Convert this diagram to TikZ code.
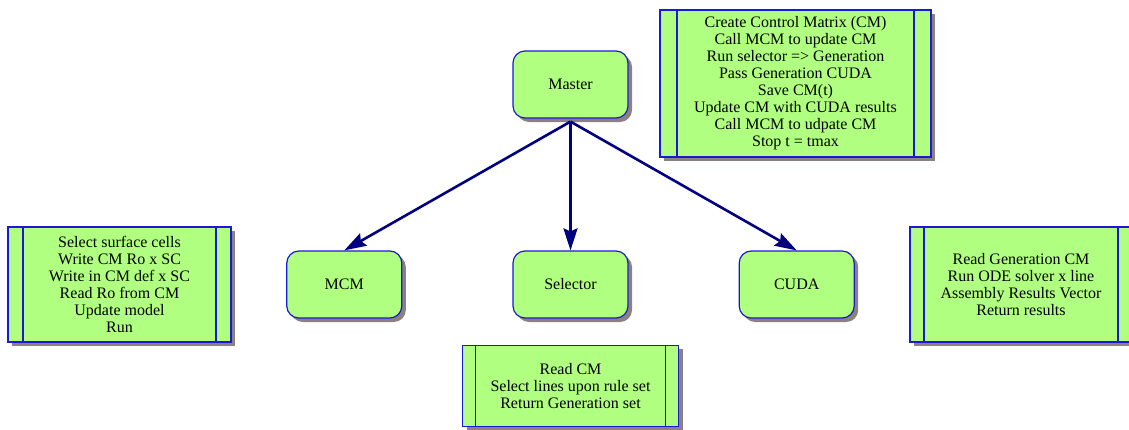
\documentclass[tikz,border=0pt]{standalone}
\usepackage{fontspec}
\setmainfont{Liberation Serif}
\usetikzlibrary{shadows, positioning, arrows.meta}

\definecolor{boxgreen}{RGB}{176,255,128}
\definecolor{boxblue}{RGB}{25,25,215}
\definecolor{callnavy}{RGB}{0,0,128}
\definecolor{shadowgray}{RGB}{140,128,128}

\tikzset{
  boxshadow/.style={drop shadow={shadow xshift=4pt, shadow yshift=-4pt, fill=shadowgray, opacity=1}},
  proc/.style={rectangle, rounded corners=12pt, draw=boxblue, line width=1.2pt, fill=boxgreen, boxshadow, minimum width=115pt, minimum height=67pt, font=\fontsize{16}{17}\selectfont},
  taskbox/.style={rectangle, draw=boxblue, line width=1.2pt, fill=boxgreen, boxshadow, align=center, inner sep=0pt, font=\fontsize{16}{17}\selectfont,
    path picture={
      \draw[boxblue, line width=1.2pt] ([xshift=#1]path picture bounding box.north west) -- ([xshift=#1]path picture bounding box.south west);
      \draw[boxblue, line width=1.2pt] ([xshift=-#1]path picture bounding box.north east) -- ([xshift=-#1]path picture bounding box.south east);
    }},
  taskbox/.default=14pt,
  call/.style={draw=callnavy, line width=2.6pt, -{Stealth[length=22pt, width=14pt, inset=3pt]}}
}

\begin{document}
\begin{tikzpicture}[x=1pt, y=-1pt]

\useasboundingbox (0,0) rectangle (1129,429);

\node[proc] (master) at (570.5,84.5) {Master};

\node[proc] (selector) at (570.5,284.5) {Selector};
\node[proc, left = 110pt of selector] (mcm) {MCM};
\node[proc, right = 110pt of selector] (cuda) {CUDA};

\draw[call] ([yshift=-3pt]master.south) -- (mcm.north);
\draw[call] ([yshift=-3pt]master.south) -- (selector.north);
\draw[call] ([yshift=-3pt]master.south) -- (cuda.north);

% what each part does
\node[taskbox=17pt, minimum width=271pt, minimum height=147pt] (masterjob) at (795.5,83.5) {Create Control Matrix (CM)\\ Call MCM to update CM\\ Run selector => Generation\\ Pass Generation CUDA\\ Save CM(t)\\ Update CM with CUDA results\\ Call MCM to udpate CM\\ Stop t = tmax};

\node[taskbox=15pt, minimum width=223pt, minimum height=115pt] (mcmjob) at (119.5,284.5) {Select surface cells\\ Write CM Ro x SC\\ Write in CM def x SC\\ Read Ro from CM\\ Update model\\ Run};

\node[taskbox=13pt, minimum width=216pt, minimum height=81pt, below = 26pt of selector] (selectorjob) {Read CM\\ Select lines upon rule set\\ Return Generation set};

\node[taskbox, minimum width=222pt, minimum height=115pt] (cudajob) at (1021,284.5) {Read Generation CM\\ Run ODE solver x line\\ Assembly Results Vector\\ Return results};

\end{tikzpicture}
\end{document}
